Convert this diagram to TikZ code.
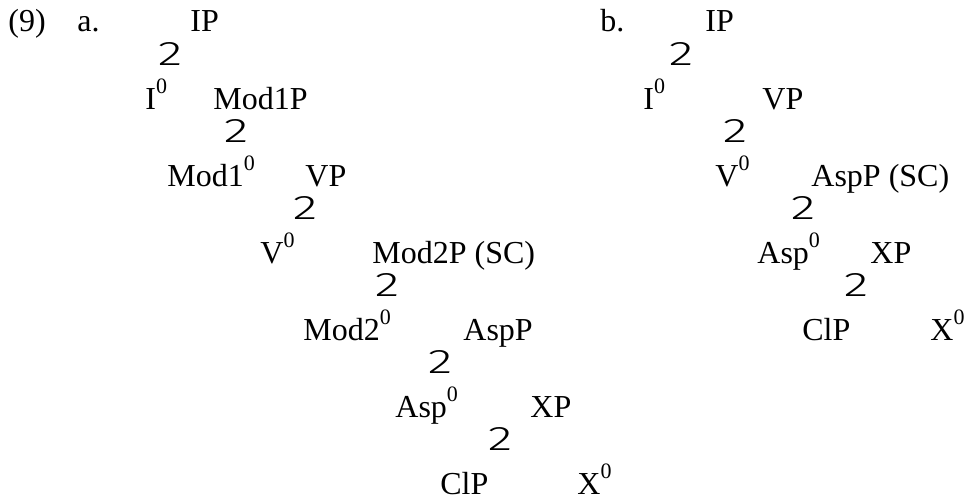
\documentclass[tikz,border=0pt]{standalone}
\usepackage{graphicx}
\usepackage{fontspec}
\setmainfont{Liberation Serif}
\newfontfamily\branchfont{Fira Sans Light}
\newcommand{\hz}{\raisebox{0.5em}{\fontsize{11}{11}\selectfont 0}}
\newcommand{\brglyph}{\scalebox{1.5}[1]{2}}

\begin{document}
\begin{tikzpicture}[x=0.5pt, y=-0.5pt,
    every node/.style={inner sep=0pt, anchor=base west, font=\fontsize{16}{19}\selectfont},
    branch/.style={anchor=center, font=\branchfont\fontsize{17}{18}\selectfont}]
  \useasboundingbox (0,0) rectangle (965,498);
  % example number
  \node (ex) at (8,32) {(9)};
  % tree a
  \node (la) at (77,32) {a.};
  \node (aIP) at (190,32) {IP};
  \node[branch] (abr1) at (170,54) {\brglyph};
  \node (aI) at (145,109) {I\hz};
  \node (aModIP) at (213,109) {Mod1P};
  \node[branch] (abr2) at (236,131) {\brglyph};
  \node (aModI) at (167,186) {Mod1\hz};
  \node (aVP) at (305,186) {VP};
  \node[branch] (abr3) at (305,208) {\brglyph};
  \node (aV) at (260,263) {V\hz};
  \node (aModIIP) at (372,263) {Mod2P (SC)};
  \node[branch] (abr4) at (387,285) {\brglyph};
  \node (aModII) at (303,340) {Mod2\hz};
  \node (aAspP) at (463,340) {AspP};
  \node[branch] (abr5) at (440,362) {\brglyph};
  \node (aAsp) at (395,417) {Asp\hz};
  \node (aXP) at (530,417) {XP};
  \node[branch] (abr6) at (500,439) {\brglyph};
  \node (aClP) at (440,494) {ClP};
  \node (aX) at (577,494) {X\hz};
  % tree b
  \node (lb) at (600,32) {b.};
  \node (bIP) at (705,32) {IP};
  \node[branch] (bbr1) at (681,54) {\brglyph};
  \node (bI) at (643,109) {I\hz};
  \node (bVP) at (762,109) {VP};
  \node[branch] (bbr2) at (735,131) {\brglyph};
  \node (bV) at (715,186) {V\hz};
  \node (bAspP) at (811,186) {AspP (SC)};
  \node[branch] (bbr3) at (803,208) {\brglyph};
  \node (bAsp) at (757,263) {Asp\hz};
  \node (bXP) at (870,263) {XP};
  \node[branch] (bbr4) at (856,285) {\brglyph};
  \node (bClP) at (802,340) {ClP};
  \node (bX) at (930,340) {X\hz};
\end{tikzpicture}
\end{document}
